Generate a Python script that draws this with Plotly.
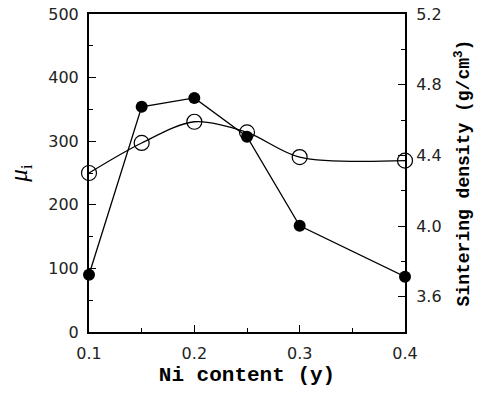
import plotly.graph_objects as go

ni_content = [0.1, 0.15, 0.2, 0.25, 0.3, 0.4]
mu_i = [90, 354, 368, 307, 167, 87]
density = [4.30, 4.47, 4.59, 4.53, 4.39, 4.37]

fig = go.Figure()
fig.add_trace(go.Scatter(
    x=ni_content, y=density, mode="lines+markers", yaxis="y2",
    line=dict(color="black", width=1.3, shape="spline", smoothing=0.9),
    marker=dict(symbol="circle-open", size=15, color="black", line=dict(width=1.2)),
    cliponaxis=False, showlegend=False))
fig.add_trace(go.Scatter(
    x=ni_content, y=mu_i, mode="lines+markers",
    line=dict(color="black", width=1.3),
    marker=dict(symbol="circle", size=12, color="black"),
    cliponaxis=False, showlegend=False))

tickfont = dict(family="DejaVu Sans, Arial", size=16, color="#222")
mono = "Liberation Mono, Courier New, monospace"

fig.update_layout(
    width=483, height=393,
    margin=dict(l=89, r=78, t=14, b=61),
    plot_bgcolor="white", paper_bgcolor="white",
    xaxis=dict(range=[0.1, 0.4], tickvals=[0.1, 0.2, 0.3, 0.4], ticktext=["0.1", "0.2", "0.3", "0.4"],
               ticks="inside", ticklen=7, tickwidth=1.2, tickcolor="black",
               minor=dict(ticks="inside", dtick=0.05, ticklen=4, tickcolor="black"),
               showline=True, linecolor="black", linewidth=2, mirror=True, automargin=False,
               showgrid=False, zeroline=False, tickfont=tickfont, ticklabelstandoff=6,
               title=dict(text="<b>Ni content (y)</b>", font=dict(family=mono, size=21, color="black"), standoff=4)),
    yaxis=dict(range=[0, 500], tickvals=[0, 100, 200, 300, 400, 500], ticktext=["0", "100", "200", "300", "400", "500"],
               ticks="inside", ticklen=7, tickwidth=1.2, tickcolor="black",
               minor=dict(ticks="inside", dtick=50, ticklen=4, tickcolor="black"),
               showline=True, linecolor="black", linewidth=2, automargin=False,
               showgrid=False, zeroline=False, tickfont=tickfont, ticklabelstandoff=5,
               title=dict(text="<i>μ</i><sub>i</sub>", font=dict(family="Liberation Serif, Times New Roman", size=25, color="black"), standoff=14)),
    yaxis2=dict(range=[3.4, 5.2], tickvals=[3.6, 4.0, 4.4, 4.8, 5.2], ticktext=["3.6", "4.0", "4.4", "4.8", "5.2"],
                overlaying="y", side="right", automargin=False,
                ticks="inside", ticklen=7, tickwidth=1.2, tickcolor="black",
                minor=dict(ticks="inside", dtick=0.2, ticklen=4, tickcolor="black"),
                showline=True, linecolor="black", linewidth=2,
                showgrid=False, zeroline=False, tickfont=tickfont, ticklabelstandoff=6,
                title=dict(text="<b>Sintering density (g/cm<sup>3</sup>)</b>", font=dict(family=mono, size=18, color="black"), standoff=16)),
)

fig.write_html("out.html")
